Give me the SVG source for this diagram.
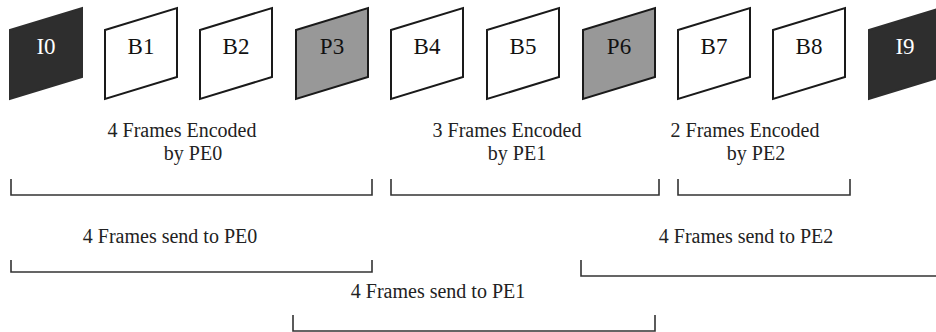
<svg xmlns="http://www.w3.org/2000/svg" width="936" height="332" viewBox="0 0 936 332">
<defs>
<style>
.fr{stroke:#1a1a1a;stroke-width:2;stroke-linejoin:miter}
.w{fill:#ffffff}
.d{fill:#2e2e2e;stroke:#2e2e2e}
.g{fill:#989898}
.br{fill:none;stroke:#333333;stroke-width:1.6}
</style>
</defs>
<rect width="936" height="332" fill="#ffffff"/>
<g id="I0"><polygon class="fr d" points="10,30 82,8 82,77 10,99"/><text font-family="Liberation Serif" font-size="23" text-anchor="middle" fill="#ffffff" x="46" y="54">I0</text></g>
<g id="B1"><polygon class="fr w" points="105,30 177,8 177,77 105,99"/><text font-family="Liberation Serif" font-size="23" text-anchor="middle" fill="#111111" x="141" y="54">B1</text></g>
<g id="B2"><polygon class="fr w" points="200,30 272,8 272,77 200,99"/><text font-family="Liberation Serif" font-size="23" text-anchor="middle" fill="#111111" x="236" y="54">B2</text></g>
<g id="P3"><polygon class="fr g" points="296,30 368,8 368,77 296,99"/><text font-family="Liberation Serif" font-size="23" text-anchor="middle" fill="#111111" x="332" y="54">P3</text></g>
<g id="B4"><polygon class="fr w" points="391,30 463,8 463,77 391,99"/><text font-family="Liberation Serif" font-size="23" text-anchor="middle" fill="#111111" x="427" y="54">B4</text></g>
<g id="B5"><polygon class="fr w" points="487,30 559,8 559,77 487,99"/><text font-family="Liberation Serif" font-size="23" text-anchor="middle" fill="#111111" x="523" y="54">B5</text></g>
<g id="P6"><polygon class="fr g" points="583,30 655,8 655,77 583,99"/><text font-family="Liberation Serif" font-size="23" text-anchor="middle" fill="#111111" x="619" y="54">P6</text></g>
<g id="B7"><polygon class="fr w" points="678,30 750,8 750,77 678,99"/><text font-family="Liberation Serif" font-size="23" text-anchor="middle" fill="#111111" x="714" y="54">B7</text></g>
<g id="B8"><polygon class="fr w" points="773,30 845,8 845,77 773,99"/><text font-family="Liberation Serif" font-size="23" text-anchor="middle" fill="#111111" x="809" y="54">B8</text></g>
<g id="I9"><polygon class="fr d" points="869,30 941,8 941,77 869,99"/><text font-family="Liberation Serif" font-size="23" text-anchor="middle" fill="#ffffff" x="905" y="54">I9</text></g>
<g id="labels">
<text font-family="Liberation Serif" font-size="20" text-anchor="middle" fill="#222222" x="182" y="137">4 Frames Encoded</text>
<text font-family="Liberation Serif" font-size="20" text-anchor="middle" fill="#222222" x="193" y="160">by PE0</text>
<text font-family="Liberation Serif" font-size="20" text-anchor="middle" fill="#222222" x="507" y="137">3 Frames Encoded</text>
<text font-family="Liberation Serif" font-size="20" text-anchor="middle" fill="#222222" x="517" y="160">by PE1</text>
<text font-family="Liberation Serif" font-size="20" text-anchor="middle" fill="#222222" x="745" y="137">2 Frames Encoded</text>
<text font-family="Liberation Serif" font-size="20" text-anchor="middle" fill="#222222" x="756" y="160">by PE2</text>
<text font-family="Liberation Serif" font-size="20" text-anchor="middle" fill="#222222" x="170" y="243">4 Frames send to PE0</text>
<text font-family="Liberation Serif" font-size="20" text-anchor="middle" fill="#222222" x="746" y="243">4 Frames send to PE2</text>
<text font-family="Liberation Serif" font-size="20" text-anchor="middle" fill="#222222" x="438" y="298">4 Frames send to PE1</text>
</g>
<g id="connectors">
<path class="br" d="M11,179 V195 H372 V179"/>
<path class="br" d="M391,179 V195 H659 V179"/>
<path class="br" d="M678,179 V195 H850 V179"/>
<path class="br" d="M11,260 V272 H372 V260"/>
<path class="br" d="M581,260 V276 H936"/>
<path class="br" d="M293,315 V331 H655 V315"/>
</g>
</svg>
